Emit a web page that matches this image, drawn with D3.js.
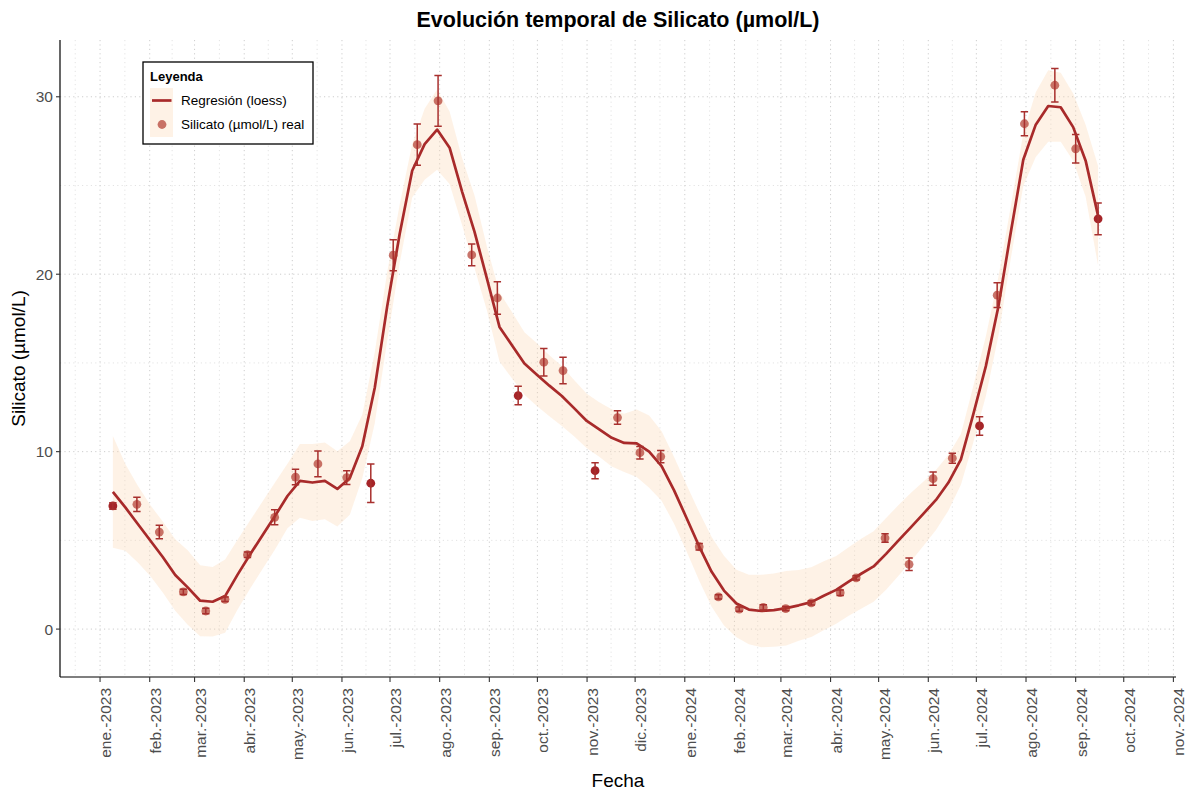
<!DOCTYPE html>
<html>
<head>
<meta charset="utf-8">
<script src="https://cdn.jsdelivr.net/npm/d3@7"></script>
<style>
  body { margin: 0; background: #ffffff; }
  svg { display: block; font-family: "Liberation Sans", Arial, sans-serif; }
</style>
</head>
<body>
<svg id="chart" width="1186" height="790"></svg>
<script>
// Fechas de muestreo
const fechas = [
  "2023-01-09","2023-01-24","2023-02-07","2023-02-22","2023-03-08","2023-03-20",
  "2023-04-03","2023-04-20","2023-05-03","2023-05-17","2023-06-04","2023-06-19",
  "2023-07-03","2023-07-18","2023-07-31","2023-08-21","2023-09-06","2023-09-19",
  "2023-10-05","2023-10-17","2023-11-06","2023-11-20","2023-12-04","2023-12-17",
  "2024-01-10","2024-01-22","2024-02-04","2024-02-19","2024-03-04","2024-03-20",
  "2024-04-07","2024-04-17","2024-05-05","2024-05-20","2024-06-04","2024-06-16",
  "2024-07-03","2024-07-14","2024-07-31","2024-08-19","2024-09-01","2024-09-15"
];

// Silicato medido (µmol/L)
const silicato = [
  6.94, 7.03, 5.47, 2.10, 1.02, 1.68,
  4.19, 6.30, 8.57, 9.31, 8.54, 8.22,
  21.07, 27.30, 29.77, 21.09, 18.66, 13.16,
  15.04, 14.57, 8.93, 11.92, 9.94, 9.72,
  4.64, 1.82, 1.13, 1.22, 1.15, 1.48,
  2.05, 2.89, 5.13, 3.65, 8.48, 9.63,
  11.45, 18.82, 28.48, 30.65, 27.07, 23.12
];

// Desviación de cada medida (µmol/L)
const errorSilicato = [
  0.18, 0.40, 0.38, 0.15, 0.15, 0.13,
  0.15, 0.42, 0.44, 0.73, 0.39, 1.08,
  0.87, 1.16, 1.43, 0.61, 0.91, 0.52,
  0.77, 0.75, 0.45, 0.38, 0.35, 0.35,
  0.18, 0.12, 0.12, 0.15, 0.12, 0.12,
  0.15, 0.12, 0.24, 0.35, 0.37, 0.28,
  0.52, 0.70, 0.67, 0.94, 0.80, 0.90
];

// Muestras resaltadas
const fechasDestacadas = ["2023-01-09","2023-06-19","2023-09-19","2023-11-06","2024-07-03","2024-09-15"];

// Curva loess evaluada en 80 puntos equiespaciados entre la primera y la última fecha
const ajusteLoess = [
  7.73, 6.86, 5.92, 4.99, 4.06, 3.05, 2.35, 1.60, 1.54, 1.86,
  3.07, 4.20, 5.29, 6.37, 7.50, 8.35, 8.26, 8.35, 7.90, 8.52,
  10.30, 13.60, 18.20, 22.28, 25.83, 27.33, 28.15, 27.13, 24.66, 22.39,
  19.74, 17.03, 16.00, 14.97, 14.34, 13.72, 13.14, 12.44, 11.73, 11.25,
  10.78, 10.49, 10.47, 10.00, 9.19, 7.82, 6.26, 4.68, 3.24, 2.17,
  1.44, 1.10, 1.02, 1.07, 1.18, 1.34, 1.52, 1.88, 2.21, 2.68,
  3.12, 3.53, 4.24, 5.00, 5.75, 6.51, 7.28, 8.26, 9.56, 12.13,
  14.82, 18.17, 22.36, 26.45, 28.43, 29.48, 29.41, 28.29, 26.40, 23.29
];

// Semiamplitud del intervalo de confianza de la curva
const margenIC = [
  3.15, 2.45, 2.16, 2.00, 2.00, 2.02, 2.10, 2.00, 1.96, 2.06,
  1.96, 1.92, 1.90, 1.89, 1.82, 2.08, 2.17, 2.16, 2.12, 2.07,
  1.80, 2.00, 1.92, 1.65, 1.50, 2.00, 2.26, 2.04, 1.89, 2.05,
  1.80, 1.95, 1.87, 1.76, 1.77, 1.72, 1.69, 1.59, 1.54, 1.54,
  1.61, 1.64, 1.90, 2.04, 1.96, 1.88, 1.88, 1.93, 1.97, 1.97,
  1.90, 1.96, 2.04, 2.07, 2.10, 1.99, 1.96, 1.95, 1.91, 1.93,
  1.97, 1.99, 2.02, 1.99, 1.93, 1.81, 1.69, 1.57, 1.43, 1.59,
  1.69, 1.66, 1.47, 1.48, 1.83, 2.02, 1.95, 1.89, 2.03, 2.80
];

// Etiquetas y límites de ejes
const mesesAbrev = ["ene.","feb.","mar.","abr.","may.","jun.","jul.","ago.","sep.","oct.","nov.","dic."];
const ticksY = [0, 10, 20, 30];
const minoresY = [5, 15, 25];
const limitesX = ["2022-12-07", "2024-11-02"];
const limitesY = [-2.7, 33.2];

const titulo = "Evolución temporal de Silicato (µmol/L)";
const tituloX = "Fecha";
const tituloY = "Silicato (µmol/L)";
const tituloLeyenda = "Leyenda";
const etiquetasLeyenda = ["Regresión (loess)", "Silicato (µmol/L) real"];

// ---------------------------------------------------------------
const parse = d3.utcParse("%Y-%m-%d");
const datos = fechas.map((f, i) => ({
  fecha: parse(f), valor: silicato[i], err: errorSilicato[i],
  destacado: fechasDestacadas.includes(f)
}));
const t0 = +datos[0].fecha, t1 = +datos[datos.length - 1].fecha;
const curva = ajusteLoess.map((v, i) => ({
  fecha: new Date(t0 + i * (t1 - t0) / (ajusteLoess.length - 1)),
  v, lo: v - margenIC[i], hi: v + margenIC[i]
}));

const panel = { left: 60, right: 1176, top: 40, bottom: 677 };
const x = d3.scaleUtc().domain(limitesX.map(parse)).range([panel.left, panel.right - 1]);
const y = d3.scaleLinear().domain(limitesY).range([panel.bottom, panel.top]);

const colLinea = "#a82a2a";
const colPunto = "#b03a2e";
const colBanda = "#fbd7b0";
const colTexto = "#4d4d4d";

const svg = d3.select("#chart");
svg.append("rect").attr("width", 1186).attr("height", 790).attr("fill", "#ffffff");

// Rejilla punteada: meses (mayor) y medios meses (menor)
const mesesMayor = d3.utcMonth.range(d3.utcMonth.ceil(x.domain()[0]), d3.utcDay.offset(x.domain()[1], 1));
const mesesMenor = [];
for (let i = 0; i < mesesMayor.length - 1; i++) {
  mesesMenor.push(new Date((+mesesMayor[i] + +mesesMayor[i + 1]) / 2));
}
mesesMenor.unshift(new Date(+mesesMayor[0] - (+mesesMayor[1] - +mesesMayor[0]) / 2));

const punteado = "1.2,3.2";
const grid = svg.append("g");
grid.selectAll(".vmin").data(mesesMenor.filter(d => x(d) > panel.left)).join("line")
  .attr("x1", d => x(d)).attr("x2", d => x(d))
  .attr("y1", panel.top).attr("y2", panel.bottom)
  .attr("stroke", "#e3e3e3").attr("stroke-width", 1).attr("stroke-dasharray", punteado);
grid.selectAll(".hmin").data(minoresY).join("line")
  .attr("x1", panel.left).attr("x2", panel.right)
  .attr("y1", d => y(d)).attr("y2", d => y(d))
  .attr("stroke", "#e3e3e3").attr("stroke-width", 1).attr("stroke-dasharray", punteado);
grid.selectAll(".vmaj").data(mesesMayor).join("line")
  .attr("x1", d => x(d)).attr("x2", d => x(d))
  .attr("y1", panel.top).attr("y2", panel.bottom)
  .attr("stroke", "#cdcdcd").attr("stroke-width", 1).attr("stroke-dasharray", punteado);
grid.selectAll(".hmaj").data(ticksY).join("line")
  .attr("x1", panel.left).attr("x2", panel.right)
  .attr("y1", d => y(d)).attr("y2", d => y(d))
  .attr("stroke", "#cdcdcd").attr("stroke-width", 1).attr("stroke-dasharray", punteado);

// Banda de confianza
svg.append("path").datum(curva)
  .attr("d", d3.area().x(d => x(d.fecha)).y0(d => y(d.lo)).y1(d => y(d.hi)))
  .attr("fill", colBanda).attr("fill-opacity", 0.32);

// Curva loess
svg.append("path").datum(curva)
  .attr("d", d3.line().x(d => x(d.fecha)).y(d => y(d.v)))
  .attr("fill", "none").attr("stroke", colLinea).attr("stroke-width", 2.7)
  .attr("stroke-linejoin", "round");

// Puntos
svg.append("g").selectAll("circle").data(datos).join("circle")
  .attr("cx", d => x(d.fecha)).attr("cy", d => y(d.valor)).attr("r", 4.4)
  .attr("fill", d => d.destacado ? "#a52428" : colPunto)
  .attr("fill-opacity", d => d.destacado ? 1 : 0.7);

// Barras de error
const eb = svg.append("g").attr("stroke", "#a8302e").attr("stroke-width", 1.5).attr("fill", "none");
const cap = 3.7;
eb.selectAll("path").data(datos).join("path")
  .attr("d", d => {
    const cx = x(d.fecha), ya = y(d.valor + d.err), yb = y(d.valor - d.err);
    return `M${cx - cap},${ya}H${cx + cap}M${cx},${ya}V${yb}M${cx - cap},${yb}H${cx + cap}`;
  });

// Eje X
const ejeX = svg.append("g");
ejeX.append("line").attr("x1", panel.left).attr("x2", panel.right)
  .attr("y1", panel.bottom).attr("y2", panel.bottom).attr("stroke", "#000").attr("stroke-width", 1.2);
ejeX.selectAll(".tk").data(mesesMayor).join("line")
  .attr("x1", d => x(d)).attr("x2", d => x(d))
  .attr("y1", panel.bottom).attr("y2", panel.bottom + 5)
  .attr("stroke", "#333").attr("stroke-width", 1.1);
ejeX.selectAll("text").data(mesesMayor).join("text")
  .attr("transform", d => `translate(${x(d) + 11},${panel.bottom + 11}) rotate(-90)`)
  .attr("text-anchor", "end").attr("font-size", 15.5).attr("fill", colTexto)
  .text(d => `${mesesAbrev[d.getUTCMonth()]}-${d.getUTCFullYear()}`);

// Eje Y
const ejeY = svg.append("g");
ejeY.append("line").attr("x1", panel.left).attr("x2", panel.left)
  .attr("y1", panel.top).attr("y2", panel.bottom).attr("stroke", "#000").attr("stroke-width", 1.2);
ejeY.selectAll(".tk").data(ticksY).join("line")
  .attr("x1", panel.left - 4).attr("x2", panel.left)
  .attr("y1", d => y(d)).attr("y2", d => y(d))
  .attr("stroke", "#333").attr("stroke-width", 1.1);
ejeY.selectAll("text").data(ticksY).join("text")
  .attr("x", panel.left - 7).attr("y", d => y(d)).attr("dy", "0.36em")
  .attr("text-anchor", "end").attr("font-size", 15.5).attr("fill", colTexto)
  .text(d => d);

// Títulos
svg.append("text").attr("x", (panel.left + panel.right) / 2).attr("y", 27)
  .attr("text-anchor", "middle").attr("font-size", 21.5).attr("font-weight", "bold")
  .attr("fill", "#000").text(titulo);
svg.append("text").attr("x", (panel.left + panel.right) / 2).attr("y", 787)
  .attr("text-anchor", "middle").attr("font-size", 19).attr("fill", "#000").text(tituloX);
svg.append("text").attr("transform", `translate(25,${(panel.top + panel.bottom) / 2}) rotate(-90)`)
  .attr("text-anchor", "middle").attr("font-size", 19).attr("fill", "#000").text(tituloY);

// Leyenda
const ley = svg.append("g");
ley.append("rect").attr("x", 143).attr("y", 62).attr("width", 170).attr("height", 82)
  .attr("fill", "#fff").attr("stroke", "#000").attr("stroke-width", 1.3);
ley.append("text").attr("x", 150).attr("y", 80.5).attr("font-size", 13)
  .attr("font-weight", "bold").attr("fill", "#000").text(tituloLeyenda);
ley.append("rect").attr("x", 150).attr("y", 88).attr("width", 23).attr("height", 49)
  .attr("fill", colBanda).attr("fill-opacity", 0.32);
ley.append("line").attr("x1", 152).attr("x2", 171.5).attr("y1", 100.5).attr("y2", 100.5)
  .attr("stroke", colLinea).attr("stroke-width", 2.7);
ley.append("circle").attr("cx", 162).attr("cy", 124.5).attr("r", 4.4)
  .attr("fill", colPunto).attr("fill-opacity", 0.7);
ley.selectAll(".lab").data(etiquetasLeyenda).join("text")
  .attr("x", 181).attr("y", (d, i) => 100.5 + i * 24).attr("dy", "0.35em")
  .attr("font-size", 13.5).attr("fill", "#000").text(d => d);
</script>
</body>
</html>
